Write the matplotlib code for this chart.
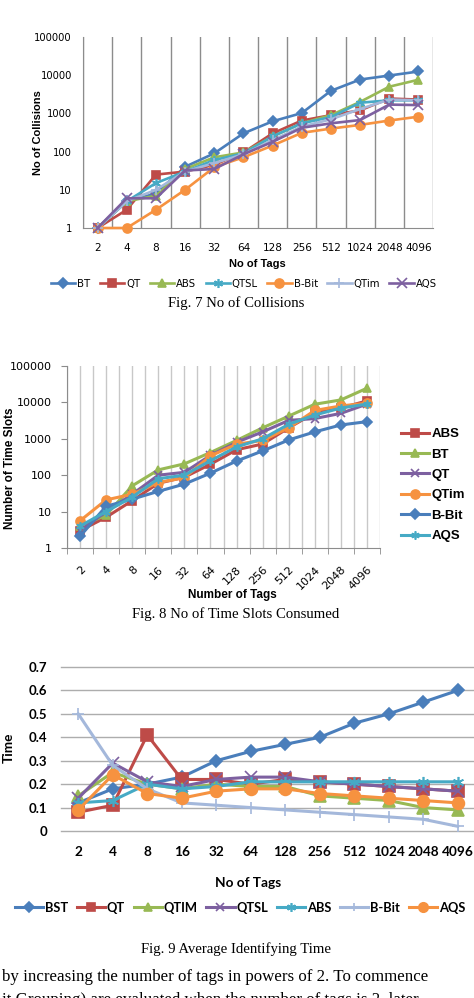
import matplotlib
matplotlib.use('Agg')
import matplotlib.pyplot as plt
from matplotlib.lines import Line2D

W, H, DPI = 474, 998, 100

tags = ['2', '4', '8', '16', '32', '64', '128', '256', '512', '1024', '2048', '4096']

# ---------------- Fig. 7 : No of Collisions ----------------
f7_names = ['BT', 'QT', 'ABS', 'QTSL', 'B-Bit', 'QTim', 'AQS']
f7_bt = [1, 5, 8, 40, 90, 300, 620, 1020, 3900, 7700, 9800, 12500]
f7_qt = [1, 3, 25, 30, 45, 95, 300, 650, 900, 1200, 2450, 2300]
f7_abs = [1, 5, 7, 35, 71, 95, 250, 550, 900, 2000, 5000, 7600]
f7_qtsl = [1, 5, 15, 30, 60, 90, 250, 550, 800, 1900, 2200, 2200]
f7_bbit = [1, 1, 3, 10, 39, 71, 144, 310, 400, 500, 650, 820]
f7_qtim = [1, 5, 10, 30, 50, 85, 200, 450, 700, 1300, 2300, 2200]
f7_aqs = [1, 6, 6, 32, 35, 85, 180, 420, 550, 670, 1700, 1650]

# ---------------- Fig. 8 : No of Time Slots ----------------
f8_names = ['ABS', 'BT', 'QT', 'QTim', 'B-Bit', 'AQS']
f8_abs = [3, 7, 20, 60, 88, 200, 500, 720, 2000, 5200, 7000, 11000]
f8_bt = [4, 8, 51, 140, 205, 420, 900, 2000, 4200, 8900, 11700, 24500]
f8_qt = [3, 10, 30, 100, 120, 350, 800, 1550, 3200, 3600, 5000, 9000]
f8_qtim = [5.6, 21, 30, 63, 85, 340, 710, 900, 2000, 6000, 8000, 9500]
f8_bbit = [2.1, 14, 22, 36, 57, 114, 245, 465, 930, 1550, 2400, 2960]
f8_aqs = [4, 10, 25, 80, 100, 250, 600, 1000, 2500, 4500, 7000, 9000]

# ---------------- Fig. 9 : Average Identifying Time ----------------
f9_names = ['BST', 'QT', 'QTIM', 'QTSL', 'ABS', 'B-Bit', 'AQS']
f9_bst = [0.12, 0.18, 0.20, 0.23, 0.30, 0.34, 0.37, 0.40, 0.46, 0.50, 0.55, 0.60]
f9_qt = [0.08, 0.11, 0.41, 0.22, 0.22, 0.20, 0.22, 0.21, 0.20, 0.19, 0.18, 0.17]
f9_qtim = [0.15, 0.25, 0.20, 0.18, 0.20, 0.19, 0.19, 0.15, 0.14, 0.13, 0.10, 0.09]
f9_qtsl = [0.14, 0.29, 0.21, 0.19, 0.22, 0.23, 0.23, 0.21, 0.20, 0.19, 0.18, 0.17]
f9_abs = [0.12, 0.13, 0.20, 0.18, 0.19, 0.21, 0.21, 0.21, 0.21, 0.21, 0.21, 0.21]
f9_bbit = [0.50, 0.28, 0.18, 0.12, 0.11, 0.10, 0.09, 0.08, 0.07, 0.06, 0.05, 0.02]
f9_aqs = [0.09, 0.24, 0.16, 0.14, 0.17, 0.18, 0.18, 0.16, 0.15, 0.14, 0.13, 0.12]

BLUE = '#4A7EBB'
RED = '#BE4B48'
GREEN = '#98B954'
PURPLE = '#7D60A0'
CYAN = '#46AAC5'
ORANGE = '#F69240'
LBLUE = '#A4B8DB'

ASTER = (6, 2, 0)

fig = plt.figure(figsize=(W / DPI, H / DPI), dpi=DPI)
fig.patch.set_facecolor('white')


def rect(l, t, r, b):
    return [l / W, 1 - b / H, (r - l) / W, (b - t) / H]


def fx(x):
    return x / W


def fy(y):
    return 1 - y / H


x = list(range(len(tags)))
SANS = 'DejaVu Sans'
NARROW = ['Liberation Sans Narrow', 'Liberation Sans']
LATO = 'Lato'
SERIF = 'Liberation Serif'

# ======================= Fig. 7 =======================
ax1 = fig.add_axes(rect(83, 37, 433, 228))
ax1.set_yscale('log')
ax1.set_ylim(1, 1e5)
ax1.set_xlim(-0.5, 11.5)
for k in range(13):
    ax1.axvline(k - 0.5, color='#8C8C8C', lw=1.0, zorder=0)
for s in ['top', 'right']:
    ax1.spines[s].set_visible(False)
for s in ['left', 'bottom']:
    ax1.spines[s].set_color('#8C8C8C')
ax1.set_yticks([1, 10, 100, 1000, 10000, 100000])
ax1.set_yticklabels(['1', '10', '100', '1000', '10000', '100000'], fontsize=7.2, family=SANS)
ax1.yaxis.set_minor_locator(matplotlib.ticker.NullLocator())
ax1.set_xticks(x)
ax1.set_xticklabels(tags, fontsize=7.6, family=SANS)
ax1.tick_params(axis='y', length=0, pad=8)
ax1.tick_params(axis='x', length=0, pad=11)

f7_data = [f7_bt, f7_qt, f7_abs, f7_qtsl, f7_bbit, f7_qtim, f7_aqs]
f7_style = [
    (BLUE, 'D', 5),
    (RED, 's', 6),
    (GREEN, '^', 6),
    (CYAN, ASTER, 6.5),
    (ORANGE, 'o', 6.5),
    (LBLUE, '+', 7),
    (PURPLE, 'x', 6.5),
]
h7 = []
for name, vals, (c, m, ms) in zip(f7_names, f7_data, f7_style):
    ln, = ax1.plot(x, vals, color=c, lw=1.9, marker=m, ms=ms, mec=c, mfc=c,
                   mew=1.2, label=name, clip_on=False, zorder=3)
    h7.append(ln)

fig.text(fx(38), fy(133), 'No of Collisions', rotation=90, ha='center', va='center',
         fontsize=8, fontweight='bold', family=NARROW)
fig.text(fx(257), fy(264), 'No of Tags', ha='center', va='center',
         fontsize=8, fontweight='bold', family=NARROW)
fig.legend(handles=h7, loc='center', bbox_to_anchor=(fx(244), fy(284)), ncol=7,
           frameon=False, prop={'family': SANS, 'size': 7.3}, handlelength=2.4,
           handletextpad=0.2, columnspacing=0.92, borderaxespad=0, borderpad=0)
fig.text(fx(236), fy(303), 'Fig. 7 No of Collisions', ha='center', va='center',
         fontsize=10.6, family=SERIF)

# ======================= Fig. 8 =======================
ax2 = fig.add_axes(rect(67, 366, 380, 548))
ax2.set_yscale('log')
ax2.set_ylim(1, 1e5)
ax2.set_xlim(-0.5, 11.5)
for k in range(25):
    ax2.axvline(k * 0.5 - 0.5, color='#C8C8C8', lw=1.0, zorder=0)
for s in ['top', 'right']:
    ax2.spines[s].set_visible(False)
for s in ['left', 'bottom']:
    ax2.spines[s].set_color('#8C8C8C')
ax2.set_yticks([1, 10, 100, 1000, 10000, 100000])
ax2.set_yticklabels(['1', '10', '100', '1000', '10000', '100000'], fontsize=8, family=SANS)
ax2.yaxis.set_minor_locator(matplotlib.ticker.NullLocator())
ax2.tick_params(axis='y', length=4, color='#8C8C8C', pad=7)
ax2.set_xticks(x)
ax2.set_xticklabels(tags, fontsize=8, family=SANS, rotation=45, ha='right',
                    va='top', rotation_mode='anchor')
ax2.set_xticks([k - 0.5 for k in range(13)], minor=True)
ax2.tick_params(axis='x', which='major', length=0, pad=12)
ax2.tick_params(axis='x', which='minor', length=4, color='#8C8C8C')

f8_data = [f8_abs, f8_bt, f8_qt, f8_qtim, f8_bbit, f8_aqs]
f8_style = [
    (RED, 's', 5.5),
    (GREEN, '^', 6),
    (PURPLE, 'x', 6),
    (ORANGE, 'o', 6.5),
    (BLUE, 'D', 5.5),
    (CYAN, ASTER, 6),
]
h8 = []
for name, vals, (c, m, ms) in zip(f8_names, f8_data, f8_style):
    ln, = ax2.plot(x, vals, color=c, lw=2.2, marker=m, ms=ms, mec=c, mfc=c,
                   mew=1.2, label=name, clip_on=False, zorder=3)
    h8.append(ln)

fig.text(fx(10), fy(468), 'Number of Time Slots', rotation=90, ha='center', va='center',
         fontsize=8.5, fontweight='bold', family=NARROW)
fig.text(fx(232), fy(595), 'Number of Tags', ha='center', va='center',
         fontsize=8.5, fontweight='bold', family=NARROW)
fig.legend(handles=h8, loc='upper left', bbox_to_anchor=(fx(401), fy(428)), ncol=1,
           frameon=False, prop={'family': 'Liberation Sans', 'size': 9.5, 'weight': 'bold'},
           handlelength=2.1, handletextpad=0.2, labelspacing=0.62,
           borderaxespad=0, borderpad=0)
fig.text(fx(236), fy(614), 'Fig. 8 No of Time Slots Consumed', ha='center', va='center',
         fontsize=10.6, family=SERIF)

# ======================= Fig. 9 =======================
ax3 = fig.add_axes(rect(61, 667, 475, 831))
ax3.set_ylim(0, 0.7)
ax3.set_xlim(-0.5, 11.5)
yt = [0, 0.1, 0.2, 0.3, 0.4, 0.5, 0.6, 0.7]
for v in yt:
    ax3.axhline(v, color='#ADADAD', lw=1.0, zorder=0, clip_on=False)
for s in ax3.spines.values():
    s.set_visible(False)
ax3.set_yticks(yt)
ax3.set_yticklabels(['0', '0.1', '0.2', '0.3', '0.4', '0.5', '0.6', '0.7'],
                    fontsize=9.5, family=LATO, fontweight='bold')
ax3.set_xticks(x)
ax3.set_xticklabels(tags, fontsize=9.8, family=LATO, fontweight='bold')
ax3.tick_params(axis='y', length=0, pad=10)
ax3.tick_params(axis='x', length=0, pad=11)

f9_data = [f9_bst, f9_qt, f9_qtim, f9_qtsl, f9_abs, f9_bbit, f9_aqs]
f9_style = [
    (BLUE, 'D', 6.5),
    (RED, 's', 8),
    (GREEN, '^', 8),
    (PURPLE, 'x', 8),
    (CYAN, ASTER, 8),
    (LBLUE, '+', 8),
    (ORANGE, 'o', 8.5),
]
h9 = []
for name, vals, (c, m, ms) in zip(f9_names, f9_data, f9_style):
    ln, = ax3.plot(x, vals, color=c, lw=2.2, marker=m, ms=ms, mec=c, mfc=c,
                   mew=1.2, label=name, clip_on=False, zorder=3)
    h9.append(ln)

fig.text(fx(9), fy(748), 'Time', rotation=90, ha='center', va='center',
         fontsize=9.8, fontweight='bold', family=LATO)
fig.text(fx(248), fy(883), 'No of Tags', ha='center', va='center',
         fontsize=9.8, fontweight='bold', family=LATO)
fig.legend(handles=h9, loc='center', bbox_to_anchor=(fx(240), fy(908)), ncol=7,
           frameon=False, prop={'family': LATO, 'size': 9.3, 'weight': 'bold'},
           handlelength=2.2, handletextpad=0.15, columnspacing=0.65,
           markerscale=0.8, borderaxespad=0, borderpad=0)
fig.text(fx(236), fy(949), 'Fig. 9 Average Identifying Time', ha='center', va='center',
         fontsize=10.6, family=SERIF)

# body text fragment (cut by the page edge, as in the source)
fig.text(fx(2), fy(977), 'by increasing the number of tags in powers of 2. To commence',
         ha='left', va='center', fontsize=12.2, family=SERIF)
fig.text(fx(2), fy(1004), 'it Grouping) are evaluated when the number of tags is 2, later',
         ha='left', va='baseline', fontsize=12.2, family=SERIF)

fig.savefig('out.png', dpi=DPI, facecolor='white')
